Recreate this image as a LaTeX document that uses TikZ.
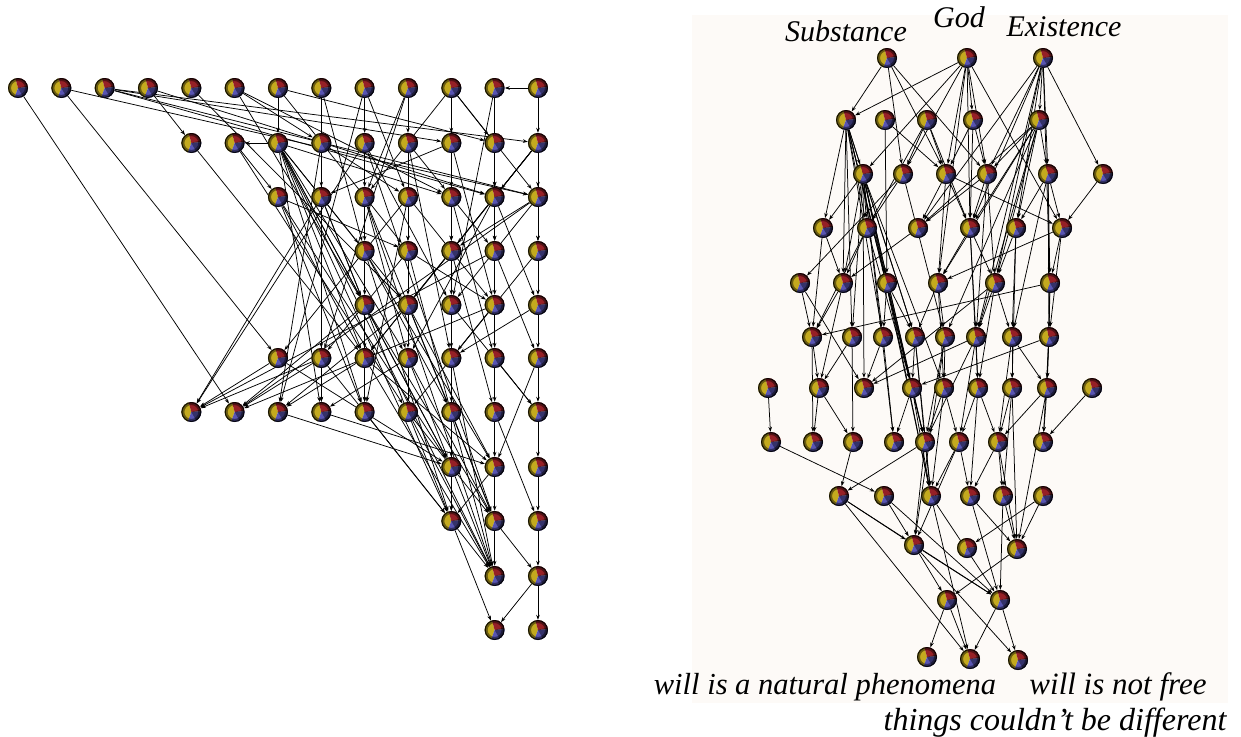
\documentclass[tikz,border=0pt]{standalone}
\usepackage{fontspec}
\setmainfont{Liberation Serif}
\usetikzlibrary{arrows.meta,backgrounds}
\definecolor{ballY}{RGB}{196,170,30}
\definecolor{ballR}{RGB}{150,32,38}
\definecolor{ballB}{RGB}{88,84,178}
\definecolor{panelbg}{RGB}{253,250,247}
\tikzset{
  ball/.style={circle, minimum size=20pt, inner sep=0pt, path picture={
    \path (path picture bounding box.center) coordinate (bc);
    \fill[ballY] (bc) -- ++(105:12pt) arc[start angle=105, end angle=250, radius=12pt] -- cycle;
    \fill[ballR] (bc) -- ++(5:12pt) arc[start angle=5, end angle=105, radius=12pt] -- cycle;
    \fill[ballB] (bc) -- ++(250:12pt) arc[start angle=250, end angle=365, radius=12pt] -- cycle;
    \fill[black, opacity=0.4] (bc) -- ++(15:12pt) arc[start angle=15, end angle=-60, radius=12pt] -- cycle;
    \draw[black, opacity=0.45, line width=4pt] (bc) circle[radius=9pt];
    \draw[black, opacity=0.8, line width=1.4pt] (bc) circle[radius=9.6pt];
  }},
  link/.style={draw=black, line width=0.75pt, -{Stealth[length=5pt,width=3.6pt]}},
  lbl/.style={font=\fontsize{30}{36}\selectfont\itshape, inner sep=0pt}
}
\begin{document}
\begin{tikzpicture}[x=1pt,y=-1pt]
\useasboundingbox (0,0) rectangle (1241,736);
\begin{scope}[on background layer]
  \fill[white] (0,0) rectangle (1241,736);
  \fill[panelbg] (692,15) rectangle (1228,703);
\end{scope}
% ---------------- left panel nodes ----------------
\foreach \c in {1,...,13} \node[ball] (l1-\c) at ({18+43.33*(\c-1)},88) {};
\foreach \c in {5,...,13} \node[ball] (l2-\c) at ({18+43.33*(\c-1)},143) {};
\foreach \c in {7,...,13} \node[ball] (l3-\c) at ({18+43.33*(\c-1)},197) {};
\foreach \c in {9,...,13} \node[ball] (l4-\c) at ({18+43.33*(\c-1)},251) {};
\foreach \c in {9,...,13} \node[ball] (l5-\c) at ({18+43.33*(\c-1)},305) {};
\foreach \c in {7,...,13} \node[ball] (l6-\c) at ({18+43.33*(\c-1)},358) {};
\foreach \c in {5,...,13} \node[ball] (l7-\c) at ({18+43.33*(\c-1)},412) {};
\foreach \c in {11,...,13} \node[ball] (l8-\c) at ({18+43.33*(\c-1)},467) {};
\foreach \c in {11,...,13} \node[ball] (l9-\c) at ({18+43.33*(\c-1)},521) {};
\foreach \c in {12,13} \node[ball] (l10-\c) at ({18+43.33*(\c-1)},576) {};
\foreach \c in {12,13} \node[ball] (l11-\c) at ({18+43.33*(\c-1)},630) {};
% ---------------- right panel nodes ----------------
\foreach \i/\x in {1/887,2/967,3/1043} \node[ball] (r1-\i) at (\x,58) {};
\foreach \i/\x in {1/846,2/885,3/927,4/973,5/1039} \node[ball] (r2-\i) at (\x,120) {};
\foreach \i/\x in {1/863,2/903,3/946,4/987,5/1048,6/1103} \node[ball] (r3-\i) at (\x,174) {};
\foreach \i/\x in {1/823,2/867,3/918,4/970,5/1016,6/1062} \node[ball] (r4-\i) at (\x,228) {};
\foreach \i/\x in {1/800,2/843,3/887,4/938,5/995,6/1050} \node[ball] (r5-\i) at (\x,283) {};
\foreach \i/\x in {1/812,2/852,3/883,4/915,5/945,6/976,7/1012,8/1049} \node[ball] (r6-\i) at (\x,337) {};
\foreach \i/\x in {1/768,2/819,3/864,4/912,5/944,6/978,7/1012,8/1047,9/1092} \node[ball] (r7-\i) at (\x,388) {};
\foreach \i/\x in {1/771,2/813,3/853,4/894,5/925,6/959,7/998,8/1043} \node[ball] (r8-\i) at (\x,442) {};
\foreach \i/\x in {1/839,2/884,3/931,4/970,5/1003,6/1043} \node[ball] (r9-\i) at (\x,496) {};
\node[ball] (r10-1) at (914,545) {};
\node[ball] (r10-2) at (967,548) {};
\node[ball] (r10-3) at (1017,549) {};
\node[ball] (r11-1) at (947,600) {};
\node[ball] (r11-2) at (1000,600) {};
\node[ball] (r12-1) at (927,657) {};
\node[ball] (r12-2) at (970,659) {};
\node[ball] (r12-3) at (1018,660) {};
% ---------------- labels ----------------
\node[lbl] (lbS) at (846,31) {Substance};
\node[lbl] (lbG) at (959,17) {God};
\node[lbl] (lbE) at (1064,27) {Existence};
\node[lbl, font=\fontsize{30.5}{36}\selectfont\itshape] (lbW1) at (825,687) {will is a natural phenomena};
\node[lbl, font=\fontsize{31}{36}\selectfont\itshape] (lbW2) at (1118,687) {will is not free};
\node[lbl, font=\fontsize{32}{38}\selectfont\itshape] (lbT) at (1055,723) {things couldn’t be different};
% ---------------- edges ----------------
\begin{scope}[on background layer]
\foreach \a/\b in {
l1-1/l7-6, l1-2/l6-7, l1-2/l3-13, l1-3/l2-13, l1-3/l3-12, l1-3/l3-13, l1-3/l2-11, l1-4/l2-5, l1-4/l3-12,
l1-5/l5-10, l1-6/l2-8, l1-6/l3-11, l1-6/l5-9, l1-7/l2-7, l1-7/l4-10, l1-7/l2-12, l1-8/l3-8, l1-8/l4-9,
l1-9/l2-9, l1-9/l3-10, l1-9/l7-7, l1-10/l2-10, l1-10/l3-9, l1-10/l6-8, l1-11/l2-11, l1-11/l2-12, l1-11/l3-13,
l1-11/l4-11, l1-11/l3-9, l1-13/l1-12, l1-12/l3-12, l1-12/l5-11, l1-13/l2-13,
l2-5/l6-9, l2-6/l3-7, l2-6/l7-10, l2-7/l2-6, l2-7/l4-9, l2-7/l5-9, l2-7/l6-10, l2-7/l7-8, l2-7/l7-9,
l2-7/l8-11, l2-7/l9-11, l2-7/l3-11, l2-7/l5-10, l2-7/l6-9, l2-7/l10-12, l2-8/l3-10, l2-8/l6-8, l2-8/l7-7,
l2-9/l3-9, l2-9/l5-11, l2-9/l7-5, l2-9/l9-12, l2-10/l3-11, l2-10/l4-10, l2-10/l6-11, l2-11/l3-11,
l2-11/l5-12, l2-11/l3-8, l2-12/l3-12, l2-12/l4-12, l2-13/l3-13, l2-13/l3-12, l2-13/l4-11, l2-13/l5-10,
l2-13/l6-9, l2-13/l4-13,
l3-7/l6-9, l3-7/l7-9, l3-7/l8-11, l3-7/l4-10, l3-8/l7-5, l3-8/l5-9, l3-8/l7-8, l3-8/l9-11, l3-9/l4-9,
l3-9/l6-10, l3-9/l7-11, l3-9/l10-12, l3-10/l4-10, l3-10/l5-12, l3-10/l6-7, l3-10/l7-9, l3-11/l4-11,
l3-11/l6-12, l3-11/l4-12, l3-12/l4-12, l3-12/l5-13, l3-12/l6-10, l3-13/l4-13, l3-13/l4-11, l3-13/l5-11,
l3-13/l7-6,
l4-9/l5-9, l4-9/l7-11, l4-9/l8-12, l4-9/l9-11, l4-10/l5-10, l4-10/l6-8, l4-10/l5-12, l4-10/l10-12,
l4-11/l5-11, l4-11/l6-9, l4-11/l7-12, l4-12/l5-12, l4-12/l6-13, l4-13/l5-13, l4-13/l6-11, l4-12/l7-5,
l5-9/l6-9, l5-9/l7-9, l5-9/l8-11, l5-9/l9-12, l5-9/l7-6, l5-10/l6-10, l5-10/l7-7, l5-10/l8-12,
l5-10/l9-12, l5-11/l6-11, l5-11/l7-13, l5-11/l9-11, l5-12/l6-12, l5-12/l7-10, l5-12/l7-6, l5-13/l6-13,
l5-13/l6-11,
l6-7/l7-5, l6-7/l8-11, l6-8/l7-6, l6-8/l7-8, l6-8/l9-11, l6-8/l7-5, l6-9/l7-9, l6-9/l8-12, l6-9/l7-7,
l6-9/l10-12, l6-10/l7-10, l6-10/l9-12, l6-10/l7-8, l6-10/l8-11, l6-11/l7-11, l6-11/l8-11, l6-11/l10-12,
l6-12/l7-12, l6-12/l7-13, l6-13/l7-13, l6-13/l8-12,
l7-7/l8-11, l7-8/l8-12, l7-9/l9-11, l7-10/l9-12, l7-10/l10-12, l7-11/l8-11, l7-11/l9-12, l7-12/l8-12,
l7-12/l9-13, l7-13/l8-13,
l8-11/l9-11, l8-11/l10-12, l8-12/l9-12, l8-12/l9-11, l8-13/l9-13, l9-11/l10-12, l9-11/l11-12,
l9-12/l10-12, l9-12/l10-13, l9-13/l10-13, l10-13/l11-12, l10-13/l11-13,
r1-1/r2-1, r1-1/r3-2, r1-1/r3-3, r1-1/r3-4,
r1-2/r2-1, r1-2/r3-1, r1-2/r3-2, r1-2/r2-4, r1-2/r4-4, r1-2/r3-3, r1-2/r4-6, r1-2/r5-4, r1-2/r3-4,
r1-3/r3-6, r1-3/r2-5, r1-3/r3-4, r1-3/r3-5, r1-3/r4-3, r1-3/r4-5, r1-3/r4-4, r1-3/r5-5, r1-3/r6-6, r1-3/r5-6,
r2-1/r3-1, r2-1/r4-1, r2-1/r4-2, r2-1/r5-2, r2-1/r5-3, r2-1/r6-3, r2-1/r6-4, r2-1/r7-4, r2-1/r8-5, r2-1/r6-2,
r2-2/r5-3, r2-2/r3-3,
r2-3/r3-2, r2-3/r3-3, r2-3/r4-2, r2-3/r4-4,
r2-4/r3-3, r2-4/r4-4, r2-4/r3-4,
r2-5/r3-4, r2-5/r3-5, r2-5/r4-3, r2-5/r4-4, r2-5/r5-4, r2-5/r4-5, r2-5/r5-5, r2-5/r6-5, r2-5/r6-6,
r3-1/r4-1, r3-1/r4-2, r3-1/r5-2, r3-1/r5-3, r3-1/r6-2, r3-1/r6-3, r3-1/r6-4, r3-1/r7-4, r3-1/r7-5,
r3-1/r8-4, r3-1/r9-3, r3-1/r8-5, r3-1/r7-3,
r3-2/r4-2, r3-2/r5-1, r3-2/r6-5,
r3-3/r4-4, r3-3/r4-3, r3-3/r5-4, r3-3/r4-6,
r3-4/r4-4, r3-4/r4-3, r3-4/r5-5, r3-4/r6-6,
r3-5/r4-5, r3-5/r4-6, r3-5/r5-6, r3-5/r6-8, r3-5/r6-7,
r3-6/r4-6,
r4-1/r6-1, r4-1/r5-2, r4-2/r5-2, r4-2/r6-1, r4-2/r7-4, r4-3/r5-2,
r4-4/r5-4, r4-4/r5-5, r4-4/r6-6, r4-4/r7-6, r4-5/r5-5, r4-5/r6-7, r4-5/r7-7,
r4-6/r5-4, r4-6/r5-6, r4-6/r6-8,
r5-1/r6-1, r5-1/r7-3, r5-2/r6-1, r5-2/r7-2,
r5-3/r6-3, r5-3/r6-4, r5-3/r7-4, r5-3/r9-3,
r5-4/r6-5, r5-4/r7-5, r5-4/r6-4,
r5-5/r6-6, r5-5/r6-7, r5-5/r7-6, r5-5/r7-3,
r5-6/r6-8, r5-6/r6-1, r5-6/r7-8,
r6-1/r7-2, r6-1/r8-2, r6-2/r7-2, r6-2/r8-3, r6-3/r7-3, r6-3/r8-4,
r6-4/r7-4, r6-4/r8-5, r6-4/r9-3, r6-5/r7-5, r6-5/r8-5, r6-5/r10-1,
r6-6/r7-6, r6-6/r8-6, r6-6/r7-3, r6-6/r8-5, r6-7/r7-7, r6-7/r8-7, r6-7/r7-8,
r6-8/r7-8, r6-8/r8-8, r6-8/r7-4,
r7-1/r8-1, r7-2/r8-2, r7-2/r8-3,
r7-4/r8-4, r7-4/r8-5, r7-4/r9-3, r7-5/r8-5, r7-5/r9-3, r7-5/r8-6,
r7-6/r8-6, r7-6/r8-7, r7-6/r9-4, r7-7/r8-7, r7-7/r9-5, r7-7/r10-3,
r7-8/r8-8, r7-8/r8-7, r7-8/r10-3, r7-9/r8-8,
r8-1/r9-2, r8-3/r9-1, r8-5/r9-1, r8-5/r9-3, r8-5/r10-1,
r8-6/r9-3, r8-6/r10-1, r8-6/r9-4, r8-7/r9-4, r8-7/r9-5, r8-7/r10-3,
r9-1/r10-1, r9-1/r11-2, r9-1/r12-2, r9-2/r10-1, r9-2/r11-2,
r9-3/r12-2, r9-3/r11-2, r9-4/r10-3, r9-4/r11-2, r9-5/r10-3, r9-5/r11-2,
r9-6/r10-3, r9-6/r10-2,
r10-1/r11-1, r10-1/r11-2, r10-1/r12-3, r10-3/r11-1,
r11-1/r12-1, r11-1/r12-2, r11-2/r12-2, r11-2/r12-3}
  \draw[link] (\a) -- (\b);
\end{scope}
\end{tikzpicture}
\end{document}
